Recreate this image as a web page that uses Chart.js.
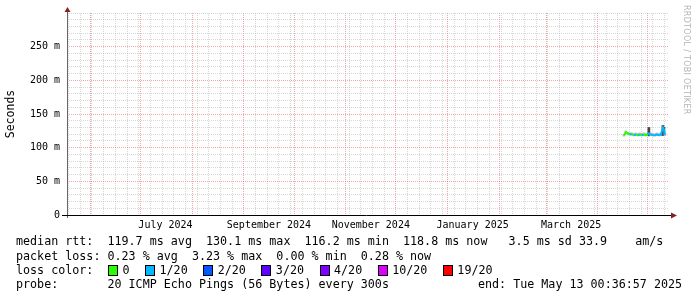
<!DOCTYPE html>
<html lang="en">
<head>
  <meta charset="UTF-8" />
  <title>Smokeping latency</title>
  <style>
    * { box-sizing: border-box; margin: 0; padding: 0; }
    body {
      background: #fff;
      width: 697px; height: 297px;
      position: relative; overflow: hidden;
      font-family: 'DejaVu Sans Mono', monospace;
      font-size: 11.7px;
      color: #000;
    }
    #chartBox { position: absolute; left: 0; top: 0; width: 697px; height: 297px; }
    .row { position: absolute; left: 16px; white-space: pre; line-height: 14px; }
    .row .right { position: absolute; left: 462px; }
    #lossRow { display: flex; align-items: center; }
    #lossRow .head { width: 92px; }
    .entry { display: flex; align-items: center; margin-right: 15.5px; }
    .sw { width: 10px; height: 11px; border: 1px solid #000; margin-right: 4.5px; }
    #credit {
      position: absolute; left: 682px; top: 5px;
      writing-mode: vertical-rl;
      font-family: 'DejaVu Sans', sans-serif; font-size: 8px;
      color: #b4b4b4; letter-spacing: 0.3px;
    }
  </style>
</head>
<body>
  <div id="chartBox"><canvas id="rttChart" width="697" height="297"></canvas></div>
  <div id="credit">RRDTOOL / TOBI OETIKER</div>
  <div class="row" style="top:234px">median rtt:  119.7 ms avg  130.1 ms max  116.2 ms min  118.8 ms now   3.5 ms sd 33.9    am/s</div>
  <div class="row" style="top:249px">packet loss: 0.23 % avg  3.23 % max  0.00 % min  0.28 % now</div>
  <div class="row" id="lossRow" style="top:263px"><span class="head">loss color:</span></div>
  <div class="row" style="top:277px">probe:       20 ICMP Echo Pings (56 Bytes) every 300s<span class="right">end: Tue May 13 00:36:57 2025</span></div>

  <script src="https://cdn.jsdelivr.net/npm/chart.js"></script>
  <script>
    // x axis labels (placed mid-month)
    const monthLabels = ['July 2024', 'September 2024', 'November 2024', 'January 2025', 'March 2025'];
    const monthLabelAt = ['2024-07-16', '2024-09-16', '2024-11-16', '2025-01-16', '2025-03-16'];

    // loss legend: pings lost (out of 20) -> colour
    const lossLevels = ['0', '1/20', '2/20', '3/20', '4/20', '10/20', '19/20'];
    const lossFrom = [0, 1, 2, 3, 4, 10, 19];
    const lossColors = ['#26ff00', '#00b8ff', '#0059ff', '#5e00ff', '#7e00ff', '#dd00ff', '#ff0000'];

    // samples (ms), loss = pings lost out of 20
    const pingTimes = [
      '2025-04-16T14:00', '2025-04-17T19:00', '2025-04-19T00:00', '2025-04-20T05:00',
      '2025-04-21T10:00', '2025-04-22T14:00', '2025-04-23T19:00', '2025-04-25T00:00',
      '2025-04-26T03:00', '2025-04-27T07:00', '2025-04-28T12:00', '2025-04-29T17:00',
      '2025-04-30T22:00', '2025-05-01T14:00', '2025-05-02T19:00', '2025-05-04T00:00',
      '2025-05-05T05:00', '2025-05-06T10:00', '2025-05-07T14:00', '2025-05-08T19:00',
      '2025-05-10T00:00', '2025-05-10T14:00', '2025-05-11T05:00'
    ];
    const medianRtt = [118, 123, 121, 120, 120, 118.5, 119.5, 118.5, 119.5, 118.5, 119.5, 118.5,
                       119.5, 121, 119.5, 118.5, 118.5, 119.5, 118.5, 119.5, 130, 127, 119];
    const lossCount = [0, 0, 0, 0, 1, 0, 1, 0, 1, 0, 1, 0, 0, 1, 1, 1, 1, 1, 1, 1, 1, 1, 1];
    const smokeLo   = [117, 121, 119.5, 118.5, 118.5, 117.5, 118, 117.5, 118, 117.5, 118, 117.5,
                       118, 117.5, 118, 117.5, 117.5, 118, 117.5, 118, 118, 118, 118];
    const smokeHi   = [120, 125, 123, 122, 122, 121, 122, 121, 122, 121, 122, 121,
                       122, 130, 122, 121, 121, 122, 121, 122, 133, 130, 121];

    const xStart = Date.UTC(2024, 4, 18, 0, 36, 57);
    const xEnd = Date.UTC(2025, 4, 13, 0, 36, 57);
    const DAY = 86400000;

    const lossColor = n => {
      let c = lossColors[0];
      lossFrom.forEach((f, i) => { if (n >= f) c = lossColors[i]; });
      return c;
    };

    // legend swatches
    const lossRow = document.getElementById('lossRow');
    lossLevels.forEach((l, i) => {
      const e = document.createElement('span');
      e.className = 'entry';
      e.innerHTML = '<span class="sw" style="background:' + lossColors[i] + '"></span><span>' + l + '</span>';
      lossRow.appendChild(e);
    });

    // grid positions
    const monthStarts = [];
    for (let d = new Date(Date.UTC(2024, 5, 1)); d.getTime() < xEnd; d.setUTCMonth(d.getUTCMonth() + 1)) {
      monthStarts.push(d.getTime());
    }
    const weekLines = [];
    for (let t = Date.UTC(2024, 4, 19); t < xEnd; t += 7 * DAY) weekLines.push(t);
    const labelTicks = monthLabelAt.map(s => Date.parse(s + 'T00:00:00Z'));
    const labelMap = new Map(labelTicks.map((t, i) => [t, monthLabels[i]]));
    const majorSet = new Set(monthStarts);
    const xTickValues = [...new Set([...weekLines, ...monthStarts, ...labelTicks])].sort((a, b) => a - b);

    const ts = pingTimes.map(s => Date.parse(s + ':00Z'));
    const medianData = ts.map((t, i) => ({ x: t, y: medianRtt[i] }));
    const smokeData = ts.map((t, i) => ({ x: t, y: [smokeLo[i], smokeHi[i]] }));

    const MINOR = 'rgba(160,160,160,0.42)';
    const MAJOR = 'rgba(235,80,80,0.5)';

    const axesPlugin = {
      id: 'rrdAxes',
      afterDraw(chart) {
        const { ctx, chartArea: a } = chart;
        ctx.save();
        // y axis
        ctx.strokeStyle = '#666';
        ctx.lineWidth = 1;
        ctx.beginPath();
        ctx.moveTo(a.left + 0.5, a.bottom + 3);
        ctx.lineTo(a.left + 0.5, a.top - 2);
        ctx.stroke();
        // x axis
        ctx.strokeStyle = '#000';
        ctx.beginPath();
        ctx.moveTo(a.left - 5, a.bottom + 0.5);
        ctx.lineTo(a.right + 3, a.bottom + 0.5);
        ctx.stroke();
        // arrows
        ctx.fillStyle = '#8a1f1f';
        ctx.beginPath();
        ctx.moveTo(a.left + 0.5, a.top - 6);
        ctx.lineTo(a.left + 3.5, a.top - 1);
        ctx.lineTo(a.left - 2.5, a.top - 1);
        ctx.closePath();
        ctx.fill();
        ctx.beginPath();
        ctx.moveTo(a.right + 9, a.bottom + 0.5);
        ctx.lineTo(a.right + 3, a.bottom - 2.5);
        ctx.lineTo(a.right + 3, a.bottom + 3.5);
        ctx.closePath();
        ctx.fill();
        ctx.restore();
      }
    };

    new Chart(document.getElementById('rttChart'), {
      data: {
        datasets: [
          {
            type: 'bar',
            label: 'smoke',
            data: smokeData,
            backgroundColor: smokeData.map(p => (p.y[1] - p.y[0] > 6 ? '#444' : '#c4c4c4')),
            barThickness: 2,
            order: 2
          },
          {
            type: 'line',
            label: 'median rtt',
            data: medianData,
            borderWidth: 2,
            pointRadius: 0,
            tension: 0,
            borderColor: lossColor(lossCount[0]),
            segment: { borderColor: c => lossColor(lossCount[c.p1DataIndex]) },
            order: 1
          }
        ]
      },
      options: {
        responsive: false,
        animation: false,
        layout: { padding: { top: 13, right: 29, left: 0, bottom: 0 } },
        plugins: { legend: { display: false }, tooltip: { enabled: false } },
        scales: {
          x: {
            type: 'linear',
            min: xStart,
            max: xEnd,
            offset: false,
            afterFit: s => { s.height = 82; },
            afterBuildTicks: s => { s.ticks = xTickValues.map(v => ({ value: v })); },
            border: { display: false, dash: [1, 1] },
            grid: {
              offset: false,
              drawTicks: false,
              color: c => majorSet.has(c.tick.value) ? MAJOR : (labelMap.has(c.tick.value) ? 'rgba(0,0,0,0)' : MINOR)
            },
            ticks: {
              autoSkip: false,
              maxRotation: 0,
              padding: 4,
              color: '#000',
              font: { family: 'DejaVu Sans Mono', size: 10 },
              callback: v => labelMap.get(v) || ''
            }
          },
          y: {
            type: 'linear',
            min: 0,
            max: 300,
            afterFit: s => { s.width = 67; },
            border: { display: false, dash: [1, 1] },
            grid: {
              drawTicks: false,
              color: c => c.tick.value === 0 ? 'rgba(0,0,0,0)' : (c.tick.value % 50 === 0 && c.tick.value < 300 ? MAJOR : MINOR)
            },
            ticks: {
              stepSize: 10,
              autoSkip: false,
              padding: 7,
              color: '#000',
              font: { family: 'DejaVu Sans Mono', size: 10 },
              callback: v => v === 0 ? '0' : (v % 50 === 0 && v < 300 ? v + ' m' : '')
            },
            title: {
              display: true,
              text: 'Seconds',
              color: '#000',
              padding: { top: 4, bottom: 4 },
              font: { family: 'DejaVu Sans Mono', size: 11.5 }
            }
          }
        }
      },
      plugins: [axesPlugin]
    });
  </script>
</body>
</html>
